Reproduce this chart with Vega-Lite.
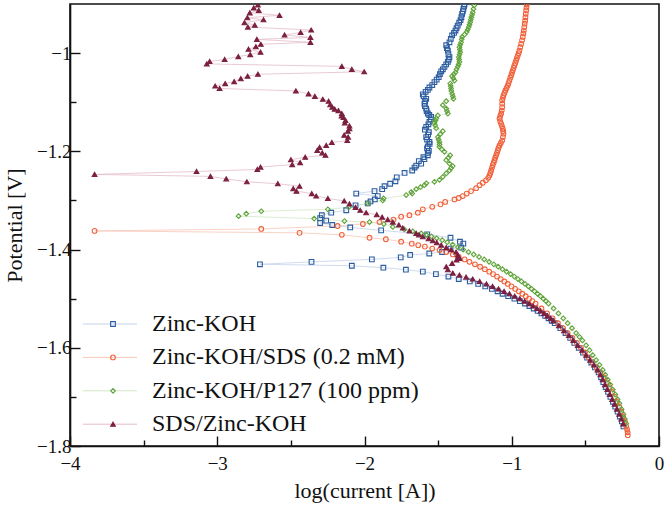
{
  "$schema": "https://vega.github.io/schema/vega-lite/v6.json",
  "width": 589,
  "height": 442,
  "autosize": "none",
  "padding": {"left": 70, "top": 4, "right": 7, "bottom": 59},
  "background": "white",
  "config": {
    "view": {"stroke": "#111", "strokeWidth": 1.6},
    "font": "Liberation Serif",
    "axis": {"domainColor": "#111", "domainWidth": 1.6, "tickColor": "#111", "tickWidth": 1.4, "labelColor": "#111", "titleColor": "#111", "labelFont": "Liberation Serif", "titleFont": "Liberation Serif", "labelFontSize": 19, "titleFontSize": 22, "titleFontWeight": "normal", "grid": false, "labelFlush": false, "labelOverlap": false},
    "legend": {"labelFont": "Liberation Serif", "labelFontSize": 24, "labelColor": "#111"}
  },
  "data": {"values": [
    {"series":"Zinc-KOH","logI":-0.241,"E":-1.760},{"series":"Zinc-KOH","logI":-0.252,"E":-1.750},{"series":"Zinc-KOH","logI":-0.266,"E":-1.740},{"series":"Zinc-KOH","logI":-0.281,"E":-1.730},{"series":"Zinc-KOH","logI":-0.297,"E":-1.720},{"series":"Zinc-KOH","logI":-0.313,"E":-1.710},{"series":"Zinc-KOH","logI":-0.330,"E":-1.700},{"series":"Zinc-KOH","logI":-0.346,"E":-1.690},{"series":"Zinc-KOH","logI":-0.362,"E":-1.680},{"series":"Zinc-KOH","logI":-0.378,"E":-1.670},{"series":"Zinc-KOH","logI":-0.393,"E":-1.660},{"series":"Zinc-KOH","logI":-0.410,"E":-1.650},{"series":"Zinc-KOH","logI":-0.435,"E":-1.640},{"series":"Zinc-KOH","logI":-0.460,"E":-1.630},{"series":"Zinc-KOH","logI":-0.488,"E":-1.620},{"series":"Zinc-KOH","logI":-0.516,"E":-1.610},{"series":"Zinc-KOH","logI":-0.545,"E":-1.600},{"series":"Zinc-KOH","logI":-0.575,"E":-1.590},{"series":"Zinc-KOH","logI":-0.603,"E":-1.580},{"series":"Zinc-KOH","logI":-0.635,"E":-1.570},{"series":"Zinc-KOH","logI":-0.670,"E":-1.560},{"series":"Zinc-KOH","logI":-0.708,"E":-1.550},{"series":"Zinc-KOH","logI":-0.729,"E":-1.545},{"series":"Zinc-KOH","logI":-0.750,"E":-1.540},{"series":"Zinc-KOH","logI":-0.773,"E":-1.535},{"series":"Zinc-KOH","logI":-0.798,"E":-1.530},{"series":"Zinc-KOH","logI":-0.824,"E":-1.525},{"series":"Zinc-KOH","logI":-0.851,"E":-1.520},{"series":"Zinc-KOH","logI":-0.880,"E":-1.515},{"series":"Zinc-KOH","logI":-0.910,"E":-1.510},{"series":"Zinc-KOH","logI":-0.945,"E":-1.505},{"series":"Zinc-KOH","logI":-0.982,"E":-1.500},{"series":"Zinc-KOH","logI":-1.024,"E":-1.495},{"series":"Zinc-KOH","logI":-1.062,"E":-1.490},{"series":"Zinc-KOH","logI":-1.096,"E":-1.485},{"series":"Zinc-KOH","logI":-1.135,"E":-1.480},{"series":"Zinc-KOH","logI":-1.180,"E":-1.475},{"series":"Zinc-KOH","logI":-1.228,"E":-1.470},{"series":"Zinc-KOH","logI":-1.285,"E":-1.465},{"series":"Zinc-KOH","logI":-1.360,"E":-1.460},{"series":"Zinc-KOH","logI":-1.430,"E":-1.455},{"series":"Zinc-KOH","logI":-1.515,"E":-1.450},
    {"series":"Zinc-KOH","logI":-1.604,"E":-1.445},{"series":"Zinc-KOH","logI":-1.719,"E":-1.441},{"series":"Zinc-KOH","logI":-1.872,"E":-1.437},{"series":"Zinc-KOH","logI":-2.086,"E":-1.433},{"series":"Zinc-KOH","logI":-2.710,"E":-1.430},{"series":"Zinc-KOH","logI":-2.360,"E":-1.425},{"series":"Zinc-KOH","logI":-1.950,"E":-1.420},{"series":"Zinc-KOH","logI":-1.754,"E":-1.416},{"series":"Zinc-KOH","logI":-1.690,"E":-1.411},{"series":"Zinc-KOH","logI":-1.560,"E":-1.408},{"series":"Zinc-KOH","logI":-1.473,"E":-1.405},{"series":"Zinc-KOH","logI":-1.416,"E":-1.398},{"series":"Zinc-KOH","logI":-1.344,"E":-1.396},{"series":"Zinc-KOH","logI":-1.329,"E":-1.388},{"series":"Zinc-KOH","logI":-1.352,"E":-1.384},{"series":"Zinc-KOH","logI":-1.416,"E":-1.376},{"series":"Zinc-KOH","logI":-1.574,"E":-1.369},{"series":"Zinc-KOH","logI":-1.887,"E":-1.361},{"series":"Zinc-KOH","logI":-2.097,"E":-1.355},{"series":"Zinc-KOH","logI":-2.219,"E":-1.350},{"series":"Zinc-KOH","logI":-2.301,"E":-1.346},{"series":"Zinc-KOH","logI":-2.260,"E":-1.341},{"series":"Zinc-KOH","logI":-2.301,"E":-1.336},{"series":"Zinc-KOH","logI":-2.290,"E":-1.330},{"series":"Zinc-KOH","logI":-2.226,"E":-1.325},{"series":"Zinc-KOH","logI":-2.124,"E":-1.320},{"series":"Zinc-KOH","logI":-2.061,"E":-1.310},{"series":"Zinc-KOH","logI":-1.978,"E":-1.306},{"series":"Zinc-KOH","logI":-1.959,"E":-1.302},{"series":"Zinc-KOH","logI":-1.930,"E":-1.298},{"series":"Zinc-KOH","logI":-1.910,"E":-1.291},{"series":"Zinc-KOH","logI":-2.056,"E":-1.286},{"series":"Zinc-KOH","logI":-1.932,"E":-1.281},{"series":"Zinc-KOH","logI":-1.880,"E":-1.277},{"series":"Zinc-KOH","logI":-1.864,"E":-1.271},{"series":"Zinc-KOH","logI":-1.826,"E":-1.266},{"series":"Zinc-KOH","logI":-1.790,"E":-1.261},{"series":"Zinc-KOH","logI":-1.781,"E":-1.253},{"series":"Zinc-KOH","logI":-1.728,"E":-1.244},{"series":"Zinc-KOH","logI":-1.676,"E":-1.239},{"series":"Zinc-KOH","logI":-1.660,"E":-1.233},{"series":"Zinc-KOH","logI":-1.649,"E":-1.229},{"series":"Zinc-KOH","logI":-1.615,"E":-1.225},{"series":"Zinc-KOH","logI":-1.631,"E":-1.220},{"series":"Zinc-KOH","logI":-1.593,"E":-1.216},{"series":"Zinc-KOH","logI":-1.600,"E":-1.212},{"series":"Zinc-KOH","logI":-1.570,"E":-1.208},{"series":"Zinc-KOH","logI":-1.570,"E":-1.203},{"series":"Zinc-KOH","logI":-1.563,"E":-1.199},{"series":"Zinc-KOH","logI":-1.575,"E":-1.194},{"series":"Zinc-KOH","logI":-1.570,"E":-1.190},{"series":"Zinc-KOH","logI":-1.558,"E":-1.185},{"series":"Zinc-KOH","logI":-1.559,"E":-1.181},{"series":"Zinc-KOH","logI":-1.575,"E":-1.176},{"series":"Zinc-KOH","logI":-1.581,"E":-1.171},{"series":"Zinc-KOH","logI":-1.568,"E":-1.166},{"series":"Zinc-KOH","logI":-1.563,"E":-1.161},{"series":"Zinc-KOH","logI":-1.590,"E":-1.156},{"series":"Zinc-KOH","logI":-1.581,"E":-1.150},{"series":"Zinc-KOH","logI":-1.566,"E":-1.145},{"series":"Zinc-KOH","logI":-1.559,"E":-1.140},{"series":"Zinc-KOH","logI":-1.550,"E":-1.135},{"series":"Zinc-KOH","logI":-1.547,"E":-1.130},{"series":"Zinc-KOH","logI":-1.560,"E":-1.126},{"series":"Zinc-KOH","logI":-1.570,"E":-1.123},{"series":"Zinc-KOH","logI":-1.578,"E":-1.118},{"series":"Zinc-KOH","logI":-1.581,"E":-1.113},{"series":"Zinc-KOH","logI":-1.590,"E":-1.108},{"series":"Zinc-KOH","logI":-1.593,"E":-1.103},{"series":"Zinc-KOH","logI":-1.588,"E":-1.098},{"series":"Zinc-KOH","logI":-1.581,"E":-1.093},{"series":"Zinc-KOH","logI":-1.598,"E":-1.088},{"series":"Zinc-KOH","logI":-1.604,"E":-1.084},{"series":"Zinc-KOH","logI":-1.585,"E":-1.079},{"series":"Zinc-KOH","logI":-1.570,"E":-1.075},{"series":"Zinc-KOH","logI":-1.559,"E":-1.070},{"series":"Zinc-KOH","logI":-1.540,"E":-1.065},{"series":"Zinc-KOH","logI":-1.525,"E":-1.059},{"series":"Zinc-KOH","logI":-1.510,"E":-1.054},{"series":"Zinc-KOH","logI":-1.496,"E":-1.049},{"series":"Zinc-KOH","logI":-1.488,"E":-1.043},{"series":"Zinc-KOH","logI":-1.479,"E":-1.037},{"series":"Zinc-KOH","logI":-1.468,"E":-1.033},{"series":"Zinc-KOH","logI":-1.457,"E":-1.028},{"series":"Zinc-KOH","logI":-1.445,"E":-1.023},{"series":"Zinc-KOH","logI":-1.434,"E":-1.018},{"series":"Zinc-KOH","logI":-1.428,"E":-1.013},{"series":"Zinc-KOH","logI":-1.423,"E":-1.008},{"series":"Zinc-KOH","logI":-1.430,"E":-1.002},{"series":"Zinc-KOH","logI":-1.434,"E":-0.995},{"series":"Zinc-KOH","logI":-1.440,"E":-0.990},{"series":"Zinc-KOH","logI":-1.445,"E":-0.984},{"series":"Zinc-KOH","logI":-1.423,"E":-0.978},{"series":"Zinc-KOH","logI":-1.414,"E":-0.971},{"series":"Zinc-KOH","logI":-1.405,"E":-0.964},{"series":"Zinc-KOH","logI":-1.392,"E":-0.959},{"series":"Zinc-KOH","logI":-1.382,"E":-0.954},{"series":"Zinc-KOH","logI":-1.375,"E":-0.949},{"series":"Zinc-KOH","logI":-1.367,"E":-0.944},{"series":"Zinc-KOH","logI":-1.357,"E":-0.938},{"series":"Zinc-KOH","logI":-1.348,"E":-0.933},{"series":"Zinc-KOH","logI":-1.342,"E":-0.927},{"series":"Zinc-KOH","logI":-1.337,"E":-0.920},{"series":"Zinc-KOH","logI":-1.332,"E":-0.915},{"series":"Zinc-KOH","logI":-1.328,"E":-0.910},{"series":"Zinc-KOH","logI":-1.324,"E":-0.905},{"series":"Zinc-KOH","logI":-1.321,"E":-0.901},

    {"series":"Zinc-KOH/SDS (0.2 mM)","logI":-0.212,"E":-1.778},{"series":"Zinc-KOH/SDS (0.2 mM)","logI":-0.213,"E":-1.772},{"series":"Zinc-KOH/SDS (0.2 mM)","logI":-0.217,"E":-1.766},{"series":"Zinc-KOH/SDS (0.2 mM)","logI":-0.222,"E":-1.760},{"series":"Zinc-KOH/SDS (0.2 mM)","logI":-0.232,"E":-1.750},{"series":"Zinc-KOH/SDS (0.2 mM)","logI":-0.244,"E":-1.740},{"series":"Zinc-KOH/SDS (0.2 mM)","logI":-0.256,"E":-1.730},{"series":"Zinc-KOH/SDS (0.2 mM)","logI":-0.270,"E":-1.720},{"series":"Zinc-KOH/SDS (0.2 mM)","logI":-0.285,"E":-1.710},{"series":"Zinc-KOH/SDS (0.2 mM)","logI":-0.300,"E":-1.700},{"series":"Zinc-KOH/SDS (0.2 mM)","logI":-0.318,"E":-1.690},{"series":"Zinc-KOH/SDS (0.2 mM)","logI":-0.336,"E":-1.680},{"series":"Zinc-KOH/SDS (0.2 mM)","logI":-0.355,"E":-1.670},{"series":"Zinc-KOH/SDS (0.2 mM)","logI":-0.376,"E":-1.660},{"series":"Zinc-KOH/SDS (0.2 mM)","logI":-0.398,"E":-1.650},{"series":"Zinc-KOH/SDS (0.2 mM)","logI":-0.423,"E":-1.640},{"series":"Zinc-KOH/SDS (0.2 mM)","logI":-0.450,"E":-1.630},{"series":"Zinc-KOH/SDS (0.2 mM)","logI":-0.477,"E":-1.620},{"series":"Zinc-KOH/SDS (0.2 mM)","logI":-0.503,"E":-1.610},{"series":"Zinc-KOH/SDS (0.2 mM)","logI":-0.530,"E":-1.600},{"series":"Zinc-KOH/SDS (0.2 mM)","logI":-0.558,"E":-1.590},{"series":"Zinc-KOH/SDS (0.2 mM)","logI":-0.588,"E":-1.580},{"series":"Zinc-KOH/SDS (0.2 mM)","logI":-0.620,"E":-1.570},{"series":"Zinc-KOH/SDS (0.2 mM)","logI":-0.652,"E":-1.560},{"series":"Zinc-KOH/SDS (0.2 mM)","logI":-0.686,"E":-1.550},{"series":"Zinc-KOH/SDS (0.2 mM)","logI":-0.722,"E":-1.540},{"series":"Zinc-KOH/SDS (0.2 mM)","logI":-0.760,"E":-1.530},{"series":"Zinc-KOH/SDS (0.2 mM)","logI":-0.798,"E":-1.520},{"series":"Zinc-KOH/SDS (0.2 mM)","logI":-0.838,"E":-1.510},{"series":"Zinc-KOH/SDS (0.2 mM)","logI":-0.860,"E":-1.505},{"series":"Zinc-KOH/SDS (0.2 mM)","logI":-0.882,"E":-1.500},{"series":"Zinc-KOH/SDS (0.2 mM)","logI":-0.905,"E":-1.495},{"series":"Zinc-KOH/SDS (0.2 mM)","logI":-0.928,"E":-1.490},{"series":"Zinc-KOH/SDS (0.2 mM)","logI":-0.952,"E":-1.485},{"series":"Zinc-KOH/SDS (0.2 mM)","logI":-0.977,"E":-1.480},{"series":"Zinc-KOH/SDS (0.2 mM)","logI":-1.002,"E":-1.475},{"series":"Zinc-KOH/SDS (0.2 mM)","logI":-1.027,"E":-1.470},{"series":"Zinc-KOH/SDS (0.2 mM)","logI":-1.050,"E":-1.465},{"series":"Zinc-KOH/SDS (0.2 mM)","logI":-1.075,"E":-1.460},{"series":"Zinc-KOH/SDS (0.2 mM)","logI":-1.100,"E":-1.455},{"series":"Zinc-KOH/SDS (0.2 mM)","logI":-1.127,"E":-1.450},{"series":"Zinc-KOH/SDS (0.2 mM)","logI":-1.153,"E":-1.445},{"series":"Zinc-KOH/SDS (0.2 mM)","logI":-1.183,"E":-1.440},{"series":"Zinc-KOH/SDS (0.2 mM)","logI":-1.215,"E":-1.435},{"series":"Zinc-KOH/SDS (0.2 mM)","logI":-1.250,"E":-1.430},{"series":"Zinc-KOH/SDS (0.2 mM)","logI":-1.287,"E":-1.425},{"series":"Zinc-KOH/SDS (0.2 mM)","logI":-1.320,"E":-1.420},{"series":"Zinc-KOH/SDS (0.2 mM)","logI":-1.360,"E":-1.415},{"series":"Zinc-KOH/SDS (0.2 mM)","logI":-1.400,"E":-1.410},{"series":"Zinc-KOH/SDS (0.2 mM)","logI":-1.445,"E":-1.405},{"series":"Zinc-KOH/SDS (0.2 mM)","logI":-1.490,"E":-1.401},{"series":"Zinc-KOH/SDS (0.2 mM)","logI":-1.540,"E":-1.398},{"series":"Zinc-KOH/SDS (0.2 mM)","logI":-1.590,"E":-1.394},{"series":"Zinc-KOH/SDS (0.2 mM)","logI":-1.635,"E":-1.391},{"series":"Zinc-KOH/SDS (0.2 mM)","logI":-1.679,"E":-1.388},{"series":"Zinc-KOH/SDS (0.2 mM)","logI":-1.751,"E":-1.384},{"series":"Zinc-KOH/SDS (0.2 mM)","logI":-1.855,"E":-1.379},{"series":"Zinc-KOH/SDS (0.2 mM)","logI":-1.966,"E":-1.376},{"series":"Zinc-KOH/SDS (0.2 mM)","logI":-2.154,"E":-1.370},{"series":"Zinc-KOH/SDS (0.2 mM)","logI":-2.441,"E":-1.366},{"series":"Zinc-KOH/SDS (0.2 mM)","logI":-3.833,"E":-1.362},{"series":"Zinc-KOH/SDS (0.2 mM)","logI":-2.701,"E":-1.358},{"series":"Zinc-KOH/SDS (0.2 mM)","logI":-2.183,"E":-1.352},{"series":"Zinc-KOH/SDS (0.2 mM)","logI":-2.011,"E":-1.348},{"series":"Zinc-KOH/SDS (0.2 mM)","logI":-1.898,"E":-1.344},{"series":"Zinc-KOH/SDS (0.2 mM)","logI":-1.803,"E":-1.339},{"series":"Zinc-KOH/SDS (0.2 mM)","logI":-1.751,"E":-1.333},{"series":"Zinc-KOH/SDS (0.2 mM)","logI":-1.695,"E":-1.330},{"series":"Zinc-KOH/SDS (0.2 mM)","logI":-1.638,"E":-1.325},{"series":"Zinc-KOH/SDS (0.2 mM)","logI":-1.604,"E":-1.318},{"series":"Zinc-KOH/SDS (0.2 mM)","logI":-1.540,"E":-1.313},{"series":"Zinc-KOH/SDS (0.2 mM)","logI":-1.484,"E":-1.308},{"series":"Zinc-KOH/SDS (0.2 mM)","logI":-1.452,"E":-1.303},{"series":"Zinc-KOH/SDS (0.2 mM)","logI":-1.389,"E":-1.298},{"series":"Zinc-KOH/SDS (0.2 mM)","logI":-1.360,"E":-1.295},{"series":"Zinc-KOH/SDS (0.2 mM)","logI":-1.333,"E":-1.291},{"series":"Zinc-KOH/SDS (0.2 mM)","logI":-1.306,"E":-1.286},{"series":"Zinc-KOH/SDS (0.2 mM)","logI":-1.276,"E":-1.281},{"series":"Zinc-KOH/SDS (0.2 mM)","logI":-1.242,"E":-1.275},{"series":"Zinc-KOH/SDS (0.2 mM)","logI":-1.219,"E":-1.269},{"series":"Zinc-KOH/SDS (0.2 mM)","logI":-1.197,"E":-1.264},{"series":"Zinc-KOH/SDS (0.2 mM)","logI":-1.175,"E":-1.259},{"series":"Zinc-KOH/SDS (0.2 mM)","logI":-1.160,"E":-1.254},{"series":"Zinc-KOH/SDS (0.2 mM)","logI":-1.151,"E":-1.249},{"series":"Zinc-KOH/SDS (0.2 mM)","logI":-1.145,"E":-1.244},{"series":"Zinc-KOH/SDS (0.2 mM)","logI":-1.140,"E":-1.239},{"series":"Zinc-KOH/SDS (0.2 mM)","logI":-1.134,"E":-1.233},{"series":"Zinc-KOH/SDS (0.2 mM)","logI":-1.129,"E":-1.228},{"series":"Zinc-KOH/SDS (0.2 mM)","logI":-1.123,"E":-1.223},{"series":"Zinc-KOH/SDS (0.2 mM)","logI":-1.117,"E":-1.218},{"series":"Zinc-KOH/SDS (0.2 mM)","logI":-1.112,"E":-1.213},{"series":"Zinc-KOH/SDS (0.2 mM)","logI":-1.106,"E":-1.208},{"series":"Zinc-KOH/SDS (0.2 mM)","logI":-1.100,"E":-1.203},{"series":"Zinc-KOH/SDS (0.2 mM)","logI":-1.095,"E":-1.198},{"series":"Zinc-KOH/SDS (0.2 mM)","logI":-1.090,"E":-1.193},{"series":"Zinc-KOH/SDS (0.2 mM)","logI":-1.083,"E":-1.188},{"series":"Zinc-KOH/SDS (0.2 mM)","logI":-1.074,"E":-1.183},{"series":"Zinc-KOH/SDS (0.2 mM)","logI":-1.065,"E":-1.178},{"series":"Zinc-KOH/SDS (0.2 mM)","logI":-1.060,"E":-1.171},{"series":"Zinc-KOH/SDS (0.2 mM)","logI":-1.056,"E":-1.164},{"series":"Zinc-KOH/SDS (0.2 mM)","logI":-1.058,"E":-1.159},{"series":"Zinc-KOH/SDS (0.2 mM)","logI":-1.061,"E":-1.154},{"series":"Zinc-KOH/SDS (0.2 mM)","logI":-1.066,"E":-1.149},{"series":"Zinc-KOH/SDS (0.2 mM)","logI":-1.072,"E":-1.144},{"series":"Zinc-KOH/SDS (0.2 mM)","logI":-1.078,"E":-1.139},{"series":"Zinc-KOH/SDS (0.2 mM)","logI":-1.083,"E":-1.133},{"series":"Zinc-KOH/SDS (0.2 mM)","logI":-1.078,"E":-1.128},{"series":"Zinc-KOH/SDS (0.2 mM)","logI":-1.072,"E":-1.123},{"series":"Zinc-KOH/SDS (0.2 mM)","logI":-1.068,"E":-1.117},{"series":"Zinc-KOH/SDS (0.2 mM)","logI":-1.065,"E":-1.110},{"series":"Zinc-KOH/SDS (0.2 mM)","logI":-1.065,"E":-1.103},{"series":"Zinc-KOH/SDS (0.2 mM)","logI":-1.065,"E":-1.096},{"series":"Zinc-KOH/SDS (0.2 mM)","logI":-1.060,"E":-1.091},{"series":"Zinc-KOH/SDS (0.2 mM)","logI":-1.056,"E":-1.086},{"series":"Zinc-KOH/SDS (0.2 mM)","logI":-1.050,"E":-1.081},{"series":"Zinc-KOH/SDS (0.2 mM)","logI":-1.043,"E":-1.076},{"series":"Zinc-KOH/SDS (0.2 mM)","logI":-1.035,"E":-1.071},{"series":"Zinc-KOH/SDS (0.2 mM)","logI":-1.027,"E":-1.066},{"series":"Zinc-KOH/SDS (0.2 mM)","logI":-1.022,"E":-1.061},{"series":"Zinc-KOH/SDS (0.2 mM)","logI":-1.016,"E":-1.056},{"series":"Zinc-KOH/SDS (0.2 mM)","logI":-1.010,"E":-1.050},{"series":"Zinc-KOH/SDS (0.2 mM)","logI":-1.004,"E":-1.045},{"series":"Zinc-KOH/SDS (0.2 mM)","logI":-0.998,"E":-1.040},{"series":"Zinc-KOH/SDS (0.2 mM)","logI":-0.993,"E":-1.035},{"series":"Zinc-KOH/SDS (0.2 mM)","logI":-0.987,"E":-1.030},{"series":"Zinc-KOH/SDS (0.2 mM)","logI":-0.982,"E":-1.025},{"series":"Zinc-KOH/SDS (0.2 mM)","logI":-0.976,"E":-1.020},{"series":"Zinc-KOH/SDS (0.2 mM)","logI":-0.970,"E":-1.015},{"series":"Zinc-KOH/SDS (0.2 mM)","logI":-0.965,"E":-1.010},{"series":"Zinc-KOH/SDS (0.2 mM)","logI":-0.959,"E":-1.005},{"series":"Zinc-KOH/SDS (0.2 mM)","logI":-0.953,"E":-1.000},{"series":"Zinc-KOH/SDS (0.2 mM)","logI":-0.948,"E":-0.995},{"series":"Zinc-KOH/SDS (0.2 mM)","logI":-0.942,"E":-0.988},{"series":"Zinc-KOH/SDS (0.2 mM)","logI":-0.936,"E":-0.981},{"series":"Zinc-KOH/SDS (0.2 mM)","logI":-0.930,"E":-0.974},{"series":"Zinc-KOH/SDS (0.2 mM)","logI":-0.925,"E":-0.967},{"series":"Zinc-KOH/SDS (0.2 mM)","logI":-0.921,"E":-0.960},{"series":"Zinc-KOH/SDS (0.2 mM)","logI":-0.918,"E":-0.954},{"series":"Zinc-KOH/SDS (0.2 mM)","logI":-0.915,"E":-0.947},{"series":"Zinc-KOH/SDS (0.2 mM)","logI":-0.912,"E":-0.940},{"series":"Zinc-KOH/SDS (0.2 mM)","logI":-0.909,"E":-0.934},{"series":"Zinc-KOH/SDS (0.2 mM)","logI":-0.907,"E":-0.927},{"series":"Zinc-KOH/SDS (0.2 mM)","logI":-0.905,"E":-0.920},{"series":"Zinc-KOH/SDS (0.2 mM)","logI":-0.902,"E":-0.913},{"series":"Zinc-KOH/SDS (0.2 mM)","logI":-0.900,"E":-0.907},{"series":"Zinc-KOH/SDS (0.2 mM)","logI":-0.898,"E":-0.901},

    {"series":"Zinc-KOH/P127 (100 ppm)","logI":-0.223,"E":-1.754},{"series":"Zinc-KOH/P127 (100 ppm)","logI":-0.232,"E":-1.745},{"series":"Zinc-KOH/P127 (100 ppm)","logI":-0.242,"E":-1.735},{"series":"Zinc-KOH/P127 (100 ppm)","logI":-0.254,"E":-1.725},{"series":"Zinc-KOH/P127 (100 ppm)","logI":-0.269,"E":-1.713},{"series":"Zinc-KOH/P127 (100 ppm)","logI":-0.281,"E":-1.705},{"series":"Zinc-KOH/P127 (100 ppm)","logI":-0.297,"E":-1.695},{"series":"Zinc-KOH/P127 (100 ppm)","logI":-0.314,"E":-1.685},{"series":"Zinc-KOH/P127 (100 ppm)","logI":-0.331,"E":-1.675},{"series":"Zinc-KOH/P127 (100 ppm)","logI":-0.348,"E":-1.665},{"series":"Zinc-KOH/P127 (100 ppm)","logI":-0.365,"E":-1.655},{"series":"Zinc-KOH/P127 (100 ppm)","logI":-0.382,"E":-1.645},{"series":"Zinc-KOH/P127 (100 ppm)","logI":-0.404,"E":-1.635},{"series":"Zinc-KOH/P127 (100 ppm)","logI":-0.427,"E":-1.625},{"series":"Zinc-KOH/P127 (100 ppm)","logI":-0.450,"E":-1.615},{"series":"Zinc-KOH/P127 (100 ppm)","logI":-0.472,"E":-1.605},{"series":"Zinc-KOH/P127 (100 ppm)","logI":-0.495,"E":-1.595},{"series":"Zinc-KOH/P127 (100 ppm)","logI":-0.520,"E":-1.585},{"series":"Zinc-KOH/P127 (100 ppm)","logI":-0.540,"E":-1.578},{"series":"Zinc-KOH/P127 (100 ppm)","logI":-0.563,"E":-1.570},{"series":"Zinc-KOH/P127 (100 ppm)","logI":-0.591,"E":-1.560},{"series":"Zinc-KOH/P127 (100 ppm)","logI":-0.620,"E":-1.550},{"series":"Zinc-KOH/P127 (100 ppm)","logI":-0.650,"E":-1.540},{"series":"Zinc-KOH/P127 (100 ppm)","logI":-0.683,"E":-1.530},{"series":"Zinc-KOH/P127 (100 ppm)","logI":-0.716,"E":-1.520},{"series":"Zinc-KOH/P127 (100 ppm)","logI":-0.750,"E":-1.510},{"series":"Zinc-KOH/P127 (100 ppm)","logI":-0.768,"E":-1.505},{"series":"Zinc-KOH/P127 (100 ppm)","logI":-0.786,"E":-1.500},{"series":"Zinc-KOH/P127 (100 ppm)","logI":-0.805,"E":-1.495},{"series":"Zinc-KOH/P127 (100 ppm)","logI":-0.825,"E":-1.490},{"series":"Zinc-KOH/P127 (100 ppm)","logI":-0.845,"E":-1.485},{"series":"Zinc-KOH/P127 (100 ppm)","logI":-0.866,"E":-1.480},{"series":"Zinc-KOH/P127 (100 ppm)","logI":-0.887,"E":-1.475},{"series":"Zinc-KOH/P127 (100 ppm)","logI":-0.910,"E":-1.470},{"series":"Zinc-KOH/P127 (100 ppm)","logI":-0.934,"E":-1.465},{"series":"Zinc-KOH/P127 (100 ppm)","logI":-0.958,"E":-1.460},{"series":"Zinc-KOH/P127 (100 ppm)","logI":-0.983,"E":-1.455},{"series":"Zinc-KOH/P127 (100 ppm)","logI":-1.008,"E":-1.450},{"series":"Zinc-KOH/P127 (100 ppm)","logI":-1.035,"E":-1.445},{"series":"Zinc-KOH/P127 (100 ppm)","logI":-1.063,"E":-1.440},{"series":"Zinc-KOH/P127 (100 ppm)","logI":-1.092,"E":-1.435},{"series":"Zinc-KOH/P127 (100 ppm)","logI":-1.122,"E":-1.430},{"series":"Zinc-KOH/P127 (100 ppm)","logI":-1.154,"E":-1.425},{"series":"Zinc-KOH/P127 (100 ppm)","logI":-1.187,"E":-1.420},{"series":"Zinc-KOH/P127 (100 ppm)","logI":-1.222,"E":-1.415},{"series":"Zinc-KOH/P127 (100 ppm)","logI":-1.258,"E":-1.410},{"series":"Zinc-KOH/P127 (100 ppm)","logI":-1.294,"E":-1.405},{"series":"Zinc-KOH/P127 (100 ppm)","logI":-1.330,"E":-1.400},{"series":"Zinc-KOH/P127 (100 ppm)","logI":-1.366,"E":-1.395},{"series":"Zinc-KOH/P127 (100 ppm)","logI":-1.401,"E":-1.390},{"series":"Zinc-KOH/P127 (100 ppm)","logI":-1.438,"E":-1.385},{"series":"Zinc-KOH/P127 (100 ppm)","logI":-1.472,"E":-1.381},{"series":"Zinc-KOH/P127 (100 ppm)","logI":-1.510,"E":-1.377},{"series":"Zinc-KOH/P127 (100 ppm)","logI":-1.545,"E":-1.373},{"series":"Zinc-KOH/P127 (100 ppm)","logI":-1.580,"E":-1.370},{"series":"Zinc-KOH/P127 (100 ppm)","logI":-1.615,"E":-1.367},{"series":"Zinc-KOH/P127 (100 ppm)","logI":-1.672,"E":-1.363},{"series":"Zinc-KOH/P127 (100 ppm)","logI":-1.729,"E":-1.359},{"series":"Zinc-KOH/P127 (100 ppm)","logI":-1.808,"E":-1.354},{"series":"Zinc-KOH/P127 (100 ppm)","logI":-1.869,"E":-1.348},{"series":"Zinc-KOH/P127 (100 ppm)","logI":-1.966,"E":-1.344},{"series":"Zinc-KOH/P127 (100 ppm)","logI":-2.136,"E":-1.342},{"series":"Zinc-KOH/P127 (100 ppm)","logI":-2.342,"E":-1.337},{"series":"Zinc-KOH/P127 (100 ppm)","logI":-2.855,"E":-1.332},{"series":"Zinc-KOH/P127 (100 ppm)","logI":-2.803,"E":-1.327},{"series":"Zinc-KOH/P127 (100 ppm)","logI":-2.701,"E":-1.322},{"series":"Zinc-KOH/P127 (100 ppm)","logI":-2.249,"E":-1.318},{"series":"Zinc-KOH/P127 (100 ppm)","logI":-2.107,"E":-1.314},{"series":"Zinc-KOH/P127 (100 ppm)","logI":-1.978,"E":-1.306},{"series":"Zinc-KOH/P127 (100 ppm)","logI":-1.876,"E":-1.300},{"series":"Zinc-KOH/P127 (100 ppm)","logI":-1.870,"E":-1.296},{"series":"Zinc-KOH/P127 (100 ppm)","logI":-1.717,"E":-1.289},{"series":"Zinc-KOH/P127 (100 ppm)","logI":-1.676,"E":-1.286},{"series":"Zinc-KOH/P127 (100 ppm)","logI":-1.683,"E":-1.283},{"series":"Zinc-KOH/P127 (100 ppm)","logI":-1.649,"E":-1.277},{"series":"Zinc-KOH/P127 (100 ppm)","logI":-1.620,"E":-1.273},{"series":"Zinc-KOH/P127 (100 ppm)","logI":-1.593,"E":-1.269},{"series":"Zinc-KOH/P127 (100 ppm)","logI":-1.580,"E":-1.265},{"series":"Zinc-KOH/P127 (100 ppm)","logI":-1.525,"E":-1.262},{"series":"Zinc-KOH/P127 (100 ppm)","logI":-1.491,"E":-1.258},{"series":"Zinc-KOH/P127 (100 ppm)","logI":-1.468,"E":-1.252},{"series":"Zinc-KOH/P127 (100 ppm)","logI":-1.445,"E":-1.245},{"series":"Zinc-KOH/P127 (100 ppm)","logI":-1.423,"E":-1.239},{"series":"Zinc-KOH/P127 (100 ppm)","logI":-1.412,"E":-1.234},{"series":"Zinc-KOH/P127 (100 ppm)","logI":-1.401,"E":-1.230},{"series":"Zinc-KOH/P127 (100 ppm)","logI":-1.423,"E":-1.225},{"series":"Zinc-KOH/P127 (100 ppm)","logI":-1.445,"E":-1.218},{"series":"Zinc-KOH/P127 (100 ppm)","logI":-1.430,"E":-1.213},{"series":"Zinc-KOH/P127 (100 ppm)","logI":-1.418,"E":-1.208},{"series":"Zinc-KOH/P127 (100 ppm)","logI":-1.457,"E":-1.201},{"series":"Zinc-KOH/P127 (100 ppm)","logI":-1.475,"E":-1.196},{"series":"Zinc-KOH/P127 (100 ppm)","logI":-1.491,"E":-1.191},{"series":"Zinc-KOH/P127 (100 ppm)","logI":-1.490,"E":-1.186},{"series":"Zinc-KOH/P127 (100 ppm)","logI":-1.491,"E":-1.181},{"series":"Zinc-KOH/P127 (100 ppm)","logI":-1.497,"E":-1.176},{"series":"Zinc-KOH/P127 (100 ppm)","logI":-1.502,"E":-1.171},{"series":"Zinc-KOH/P127 (100 ppm)","logI":-1.485,"E":-1.165},{"series":"Zinc-KOH/P127 (100 ppm)","logI":-1.468,"E":-1.159},{"series":"Zinc-KOH/P127 (100 ppm)","logI":-1.513,"E":-1.153},{"series":"Zinc-KOH/P127 (100 ppm)","logI":-1.520,"E":-1.147},{"series":"Zinc-KOH/P127 (100 ppm)","logI":-1.525,"E":-1.142},{"series":"Zinc-KOH/P127 (100 ppm)","logI":-1.518,"E":-1.137},{"series":"Zinc-KOH/P127 (100 ppm)","logI":-1.513,"E":-1.133},{"series":"Zinc-KOH/P127 (100 ppm)","logI":-1.502,"E":-1.127},{"series":"Zinc-KOH/P127 (100 ppm)","logI":-1.434,"E":-1.123},{"series":"Zinc-KOH/P127 (100 ppm)","logI":-1.440,"E":-1.118},{"series":"Zinc-KOH/P127 (100 ppm)","logI":-1.445,"E":-1.113},{"series":"Zinc-KOH/P127 (100 ppm)","logI":-1.468,"E":-1.106},{"series":"Zinc-KOH/P127 (100 ppm)","logI":-1.445,"E":-1.098},{"series":"Zinc-KOH/P127 (100 ppm)","logI":-1.396,"E":-1.093},{"series":"Zinc-KOH/P127 (100 ppm)","logI":-1.400,"E":-1.088},{"series":"Zinc-KOH/P127 (100 ppm)","logI":-1.405,"E":-1.083},{"series":"Zinc-KOH/P127 (100 ppm)","logI":-1.410,"E":-1.077},{"series":"Zinc-KOH/P127 (100 ppm)","logI":-1.412,"E":-1.072},{"series":"Zinc-KOH/P127 (100 ppm)","logI":-1.415,"E":-1.067},{"series":"Zinc-KOH/P127 (100 ppm)","logI":-1.418,"E":-1.062},{"series":"Zinc-KOH/P127 (100 ppm)","logI":-1.389,"E":-1.056},{"series":"Zinc-KOH/P127 (100 ppm)","logI":-1.397,"E":-1.051},{"series":"Zinc-KOH/P127 (100 ppm)","logI":-1.405,"E":-1.047},{"series":"Zinc-KOH/P127 (100 ppm)","logI":-1.393,"E":-1.043},{"series":"Zinc-KOH/P127 (100 ppm)","logI":-1.382,"E":-1.039},{"series":"Zinc-KOH/P127 (100 ppm)","logI":-1.375,"E":-1.033},{"series":"Zinc-KOH/P127 (100 ppm)","logI":-1.367,"E":-1.028},{"series":"Zinc-KOH/P127 (100 ppm)","logI":-1.361,"E":-1.023},{"series":"Zinc-KOH/P127 (100 ppm)","logI":-1.355,"E":-1.018},{"series":"Zinc-KOH/P127 (100 ppm)","logI":-1.357,"E":-1.013},{"series":"Zinc-KOH/P127 (100 ppm)","logI":-1.360,"E":-1.008},{"series":"Zinc-KOH/P127 (100 ppm)","logI":-1.355,"E":-1.003},{"series":"Zinc-KOH/P127 (100 ppm)","logI":-1.350,"E":-0.998},{"series":"Zinc-KOH/P127 (100 ppm)","logI":-1.352,"E":-0.993},{"series":"Zinc-KOH/P127 (100 ppm)","logI":-1.355,"E":-0.988},{"series":"Zinc-KOH/P127 (100 ppm)","logI":-1.350,"E":-0.983},{"series":"Zinc-KOH/P127 (100 ppm)","logI":-1.344,"E":-0.978},{"series":"Zinc-KOH/P127 (100 ppm)","logI":-1.340,"E":-0.972},{"series":"Zinc-KOH/P127 (100 ppm)","logI":-1.337,"E":-0.967},{"series":"Zinc-KOH/P127 (100 ppm)","logI":-1.320,"E":-0.962},{"series":"Zinc-KOH/P127 (100 ppm)","logI":-1.306,"E":-0.957},{"series":"Zinc-KOH/P127 (100 ppm)","logI":-1.299,"E":-0.952},{"series":"Zinc-KOH/P127 (100 ppm)","logI":-1.292,"E":-0.947},{"series":"Zinc-KOH/P127 (100 ppm)","logI":-1.287,"E":-0.942},{"series":"Zinc-KOH/P127 (100 ppm)","logI":-1.282,"E":-0.937},{"series":"Zinc-KOH/P127 (100 ppm)","logI":-1.278,"E":-0.932},{"series":"Zinc-KOH/P127 (100 ppm)","logI":-1.274,"E":-0.927},{"series":"Zinc-KOH/P127 (100 ppm)","logI":-1.270,"E":-0.922},{"series":"Zinc-KOH/P127 (100 ppm)","logI":-1.265,"E":-0.917},{"series":"Zinc-KOH/P127 (100 ppm)","logI":-1.260,"E":-0.910},{"series":"Zinc-KOH/P127 (100 ppm)","logI":-1.255,"E":-0.903},

    {"series":"SDS/Zinc-KOH","logI":-0.243,"E":-1.755},{"series":"SDS/Zinc-KOH","logI":-0.256,"E":-1.745},{"series":"SDS/Zinc-KOH","logI":-0.270,"E":-1.735},{"series":"SDS/Zinc-KOH","logI":-0.286,"E":-1.725},{"series":"SDS/Zinc-KOH","logI":-0.302,"E":-1.715},{"series":"SDS/Zinc-KOH","logI":-0.318,"E":-1.705},{"series":"SDS/Zinc-KOH","logI":-0.335,"E":-1.695},{"series":"SDS/Zinc-KOH","logI":-0.351,"E":-1.685},{"series":"SDS/Zinc-KOH","logI":-0.367,"E":-1.675},{"series":"SDS/Zinc-KOH","logI":-0.383,"E":-1.665},{"series":"SDS/Zinc-KOH","logI":-0.398,"E":-1.655},{"series":"SDS/Zinc-KOH","logI":-0.418,"E":-1.645},{"series":"SDS/Zinc-KOH","logI":-0.442,"E":-1.635},{"series":"SDS/Zinc-KOH","logI":-0.468,"E":-1.625},{"series":"SDS/Zinc-KOH","logI":-0.495,"E":-1.615},{"series":"SDS/Zinc-KOH","logI":-0.522,"E":-1.605},{"series":"SDS/Zinc-KOH","logI":-0.552,"E":-1.595},{"series":"SDS/Zinc-KOH","logI":-0.582,"E":-1.585},{"series":"SDS/Zinc-KOH","logI":-0.612,"E":-1.575},{"series":"SDS/Zinc-KOH","logI":-0.645,"E":-1.565},{"series":"SDS/Zinc-KOH","logI":-0.680,"E":-1.555},{"series":"SDS/Zinc-KOH","logI":-0.717,"E":-1.545},{"series":"SDS/Zinc-KOH","logI":-0.737,"E":-1.540},{"series":"SDS/Zinc-KOH","logI":-0.758,"E":-1.535},{"series":"SDS/Zinc-KOH","logI":-0.780,"E":-1.530},{"series":"SDS/Zinc-KOH","logI":-0.804,"E":-1.525},{"series":"SDS/Zinc-KOH","logI":-0.829,"E":-1.520},{"series":"SDS/Zinc-KOH","logI":-0.855,"E":-1.515},{"series":"SDS/Zinc-KOH","logI":-0.882,"E":-1.510},{"series":"SDS/Zinc-KOH","logI":-0.912,"E":-1.505},{"series":"SDS/Zinc-KOH","logI":-0.945,"E":-1.500},{"series":"SDS/Zinc-KOH","logI":-0.980,"E":-1.495},{"series":"SDS/Zinc-KOH","logI":-1.016,"E":-1.490},{"series":"SDS/Zinc-KOH","logI":-1.052,"E":-1.485},{"series":"SDS/Zinc-KOH","logI":-1.090,"E":-1.480},{"series":"SDS/Zinc-KOH","logI":-1.130,"E":-1.475},{"series":"SDS/Zinc-KOH","logI":-1.172,"E":-1.470},{"series":"SDS/Zinc-KOH","logI":-1.218,"E":-1.465},{"series":"SDS/Zinc-KOH","logI":-1.265,"E":-1.460},{"series":"SDS/Zinc-KOH","logI":-1.310,"E":-1.456},{"series":"SDS/Zinc-KOH","logI":-1.355,"E":-1.452},{"series":"SDS/Zinc-KOH","logI":-1.400,"E":-1.448},{"series":"SDS/Zinc-KOH","logI":-1.434,"E":-1.441},{"series":"SDS/Zinc-KOH","logI":-1.445,"E":-1.435},{"series":"SDS/Zinc-KOH","logI":-1.405,"E":-1.428},{"series":"SDS/Zinc-KOH","logI":-1.375,"E":-1.421},{"series":"SDS/Zinc-KOH","logI":-1.355,"E":-1.418},{"series":"SDS/Zinc-KOH","logI":-1.362,"E":-1.414},{"series":"SDS/Zinc-KOH","logI":-1.367,"E":-1.411},{"series":"SDS/Zinc-KOH","logI":-1.378,"E":-1.405},{"series":"SDS/Zinc-KOH","logI":-1.412,"E":-1.400},{"series":"SDS/Zinc-KOH","logI":-1.445,"E":-1.396},{"series":"SDS/Zinc-KOH","logI":-1.479,"E":-1.391},{"series":"SDS/Zinc-KOH","logI":-1.509,"E":-1.386},{"series":"SDS/Zinc-KOH","logI":-1.536,"E":-1.382},{"series":"SDS/Zinc-KOH","logI":-1.565,"E":-1.378},{"series":"SDS/Zinc-KOH","logI":-1.604,"E":-1.374},{"series":"SDS/Zinc-KOH","logI":-1.630,"E":-1.370},{"series":"SDS/Zinc-KOH","logI":-1.649,"E":-1.367},{"series":"SDS/Zinc-KOH","logI":-1.695,"E":-1.362},{"series":"SDS/Zinc-KOH","logI":-1.740,"E":-1.356},{"series":"SDS/Zinc-KOH","logI":-1.767,"E":-1.350},{"series":"SDS/Zinc-KOH","logI":-1.808,"E":-1.344},{"series":"SDS/Zinc-KOH","logI":-1.842,"E":-1.339},{"series":"SDS/Zinc-KOH","logI":-1.880,"E":-1.334},{"series":"SDS/Zinc-KOH","logI":-1.917,"E":-1.329},{"series":"SDS/Zinc-KOH","logI":-1.989,"E":-1.325},{"series":"SDS/Zinc-KOH","logI":-2.029,"E":-1.320},{"series":"SDS/Zinc-KOH","logI":-2.061,"E":-1.314},{"series":"SDS/Zinc-KOH","logI":-2.102,"E":-1.307},{"series":"SDS/Zinc-KOH","logI":-2.138,"E":-1.301},{"series":"SDS/Zinc-KOH","logI":-2.249,"E":-1.296},{"series":"SDS/Zinc-KOH","logI":-2.328,"E":-1.291},{"series":"SDS/Zinc-KOH","logI":-2.358,"E":-1.286},{"series":"SDS/Zinc-KOH","logI":-2.462,"E":-1.281},{"series":"SDS/Zinc-KOH","logI":-2.484,"E":-1.276},{"series":"SDS/Zinc-KOH","logI":-2.441,"E":-1.271},{"series":"SDS/Zinc-KOH","logI":-2.589,"E":-1.266},{"series":"SDS/Zinc-KOH","logI":-2.799,"E":-1.262},{"series":"SDS/Zinc-KOH","logI":-2.939,"E":-1.256},{"series":"SDS/Zinc-KOH","logI":-3.046,"E":-1.251},{"series":"SDS/Zinc-KOH","logI":-3.833,"E":-1.247},{"series":"SDS/Zinc-KOH","logI":-3.141,"E":-1.241},{"series":"SDS/Zinc-KOH","logI":-2.728,"E":-1.237},{"series":"SDS/Zinc-KOH","logI":-2.706,"E":-1.232},{"series":"SDS/Zinc-KOH","logI":-2.491,"E":-1.227},{"series":"SDS/Zinc-KOH","logI":-2.437,"E":-1.223},{"series":"SDS/Zinc-KOH","logI":-2.500,"E":-1.217},{"series":"SDS/Zinc-KOH","logI":-2.403,"E":-1.212},{"series":"SDS/Zinc-KOH","logI":-2.265,"E":-1.208},{"series":"SDS/Zinc-KOH","logI":-2.287,"E":-1.203},{"series":"SDS/Zinc-KOH","logI":-2.321,"E":-1.198},{"series":"SDS/Zinc-KOH","logI":-2.305,"E":-1.192},{"series":"SDS/Zinc-KOH","logI":-2.260,"E":-1.188},{"series":"SDS/Zinc-KOH","logI":-2.222,"E":-1.182},{"series":"SDS/Zinc-KOH","logI":-2.117,"E":-1.178},{"series":"SDS/Zinc-KOH","logI":-2.111,"E":-1.171},{"series":"SDS/Zinc-KOH","logI":-2.138,"E":-1.167},{"series":"SDS/Zinc-KOH","logI":-2.113,"E":-1.159},{"series":"SDS/Zinc-KOH","logI":-2.102,"E":-1.154},{"series":"SDS/Zinc-KOH","logI":-2.102,"E":-1.148},{"series":"SDS/Zinc-KOH","logI":-2.134,"E":-1.142},{"series":"SDS/Zinc-KOH","logI":-2.129,"E":-1.137},{"series":"SDS/Zinc-KOH","logI":-2.143,"E":-1.131},{"series":"SDS/Zinc-KOH","logI":-2.156,"E":-1.128},{"series":"SDS/Zinc-KOH","logI":-2.154,"E":-1.123},{"series":"SDS/Zinc-KOH","logI":-2.177,"E":-1.117},{"series":"SDS/Zinc-KOH","logI":-2.202,"E":-1.114},{"series":"SDS/Zinc-KOH","logI":-2.219,"E":-1.110},{"series":"SDS/Zinc-KOH","logI":-2.233,"E":-1.105},{"series":"SDS/Zinc-KOH","logI":-2.244,"E":-1.098},{"series":"SDS/Zinc-KOH","logI":-2.283,"E":-1.094},{"series":"SDS/Zinc-KOH","logI":-2.337,"E":-1.088},{"series":"SDS/Zinc-KOH","logI":-2.380,"E":-1.083},{"series":"SDS/Zinc-KOH","logI":-2.466,"E":-1.077},{"series":"SDS/Zinc-KOH","logI":-2.984,"E":-1.072},{"series":"SDS/Zinc-KOH","logI":-3.014,"E":-1.067},{"series":"SDS/Zinc-KOH","logI":-2.946,"E":-1.062},{"series":"SDS/Zinc-KOH","logI":-2.885,"E":-1.058},{"series":"SDS/Zinc-KOH","logI":-2.840,"E":-1.052},{"series":"SDS/Zinc-KOH","logI":-2.794,"E":-1.047},{"series":"SDS/Zinc-KOH","logI":-2.724,"E":-1.043},{"series":"SDS/Zinc-KOH","logI":-2.002,"E":-1.038},{"series":"SDS/Zinc-KOH","logI":-2.086,"E":-1.033},{"series":"SDS/Zinc-KOH","logI":-2.154,"E":-1.027},{"series":"SDS/Zinc-KOH","logI":-3.071,"E":-1.022},{"series":"SDS/Zinc-KOH","logI":-3.052,"E":-1.017},{"series":"SDS/Zinc-KOH","logI":-2.950,"E":-1.013},{"series":"SDS/Zinc-KOH","logI":-2.857,"E":-1.007},{"series":"SDS/Zinc-KOH","logI":-2.776,"E":-1.003},{"series":"SDS/Zinc-KOH","logI":-2.706,"E":-0.998},{"series":"SDS/Zinc-KOH","logI":-2.788,"E":-0.992},{"series":"SDS/Zinc-KOH","logI":-2.738,"E":-0.987},{"series":"SDS/Zinc-KOH","logI":-2.704,"E":-0.982},{"series":"SDS/Zinc-KOH","logI":-2.367,"E":-0.978},{"series":"SDS/Zinc-KOH","logI":-2.731,"E":-0.972},{"series":"SDS/Zinc-KOH","logI":-2.367,"E":-0.968},{"series":"SDS/Zinc-KOH","logI":-2.543,"E":-0.963},{"series":"SDS/Zinc-KOH","logI":-2.434,"E":-0.958},{"series":"SDS/Zinc-KOH","logI":-2.362,"E":-0.953},{"series":"SDS/Zinc-KOH","logI":-2.792,"E":-0.947},{"series":"SDS/Zinc-KOH","logI":-2.745,"E":-0.943},{"series":"SDS/Zinc-KOH","logI":-2.815,"E":-0.938},{"series":"SDS/Zinc-KOH","logI":-2.686,"E":-0.932},{"series":"SDS/Zinc-KOH","logI":-2.796,"E":-0.928},{"series":"SDS/Zinc-KOH","logI":-2.577,"E":-0.923},{"series":"SDS/Zinc-KOH","logI":-2.779,"E":-0.918},{"series":"SDS/Zinc-KOH","logI":-2.718,"E":-0.913},{"series":"SDS/Zinc-KOH","logI":-2.752,"E":-0.908},{"series":"SDS/Zinc-KOH","logI":-2.724,"E":-0.902}
  ]},
  "encoding": {
    "x": {"field": "logI", "type": "quantitative", "scale": {"domain": [-4, 0], "nice": false, "zero": false},
      "axis": {"title": "log(current [A])", "values": [-4, -3.5, -3, -2.5, -2, -1.5, -1, -0.5, 0],
        "labelExpr": "datum.value % 1 == 0 ? replace(format(datum.value, 'd'), '-', '\u2212') : ''",
        "tickSize": {"condition": {"test": "datum.value % 1 == 0", "value": -10}, "value": -6},
        "labelPadding": 18, "titlePadding": 3}},
    "y": {"field": "E", "type": "quantitative", "scale": {"domain": [-1.8, -0.9], "nice": false, "zero": false},
      "axis": {"title": "Potential [V]", "values": [-1.8, -1.7, -1.6, -1.5, -1.4, -1.3, -1.2, -1.1, -1.0],
        "labelExpr": "abs(round(datum.value * 10)) % 2 == 0 ? replace(format(datum.value, '.1~f'), '-', '\u2212') : ''",
        "tickSize": {"condition": {"test": "abs(round(datum.value * 10)) % 2 == 0", "value": -10}, "value": -6},
        "labelPadding": 9, "titlePadding": 10}}
  },
  "layer": [
    {
      "mark": {"type": "line", "strokeWidth": 0.8, "clip": true},
      "encoding": {
        "order": {"field": "E", "type": "quantitative"},
        "stroke": {"field": "series", "type": "nominal", "sort": ["Zinc-KOH", "Zinc-KOH/SDS (0.2 mM)", "Zinc-KOH/P127 (100 ppm)", "SDS/Zinc-KOH"],
          "scale": {"range": ["#c3d2ea", "#f8c6b8", "#d3e7c6", "#e3bccb"]},
          "legend": {"orient": "none", "legendX": 28, "legendY": 308, "title": null, "symbolType": "M-5,0H5", "symbolSize": 117, "symbolStrokeWidth": 1, "labelFont": "Liberation Serif", "labelFontSize": 24, "labelColor": "#111", "labelOffset": 30, "rowPadding": 9.4, "padding": 0, "labelLimit": 400}}
      }
    },
    {
      "mark": {"type": "point", "filled": false, "strokeWidth": 1.1, "size": 22, "opacity": 1, "clip": true},
      "encoding": {
        "color": {"field": "series", "type": "nominal",
          "scale": {"domain": ["Zinc-KOH", "Zinc-KOH/SDS (0.2 mM)", "Zinc-KOH/P127 (100 ppm)", "SDS/Zinc-KOH"], "range": ["#2c5da0", "#f0603a", "#5fa33a", "#7b2040"]},
          "legend": {"orient": "none", "legendX": 31, "legendY": 308, "title": null, "labelExpr": "''", "labelFontSize": 24, "labelOffset": 30, "rowPadding": 9.4, "padding": 0, "symbolSize": 22, "symbolStrokeWidth": 1.1, "labelLimit": 400}},
        "shape": {"field": "series", "type": "nominal",
          "scale": {"domain": ["Zinc-KOH", "Zinc-KOH/SDS (0.2 mM)", "Zinc-KOH/P127 (100 ppm)", "SDS/Zinc-KOH"], "range": ["square", "circle", "diamond", "triangle-up"]},
          "legend": {"orient": "none", "legendX": 31, "legendY": 308, "title": null, "labelExpr": "''", "labelFontSize": 24, "labelOffset": 30, "rowPadding": 9.4, "padding": 0, "symbolSize": 22, "symbolStrokeWidth": 1.1, "labelLimit": 400}},
        "fill": {"field": "series", "type": "nominal",
          "scale": {"domain": ["Zinc-KOH", "Zinc-KOH/SDS (0.2 mM)", "Zinc-KOH/P127 (100 ppm)", "SDS/Zinc-KOH"], "range": ["transparent", "transparent", "transparent", "#7b2040"]},
          "legend": {"orient": "none", "legendX": 31, "legendY": 308, "title": null, "labelExpr": "''", "labelFontSize": 24, "labelOffset": 30, "rowPadding": 9.4, "padding": 0, "symbolSize": 22, "symbolStrokeWidth": 1.1, "labelLimit": 400}}
      }
    }
  ]
}
